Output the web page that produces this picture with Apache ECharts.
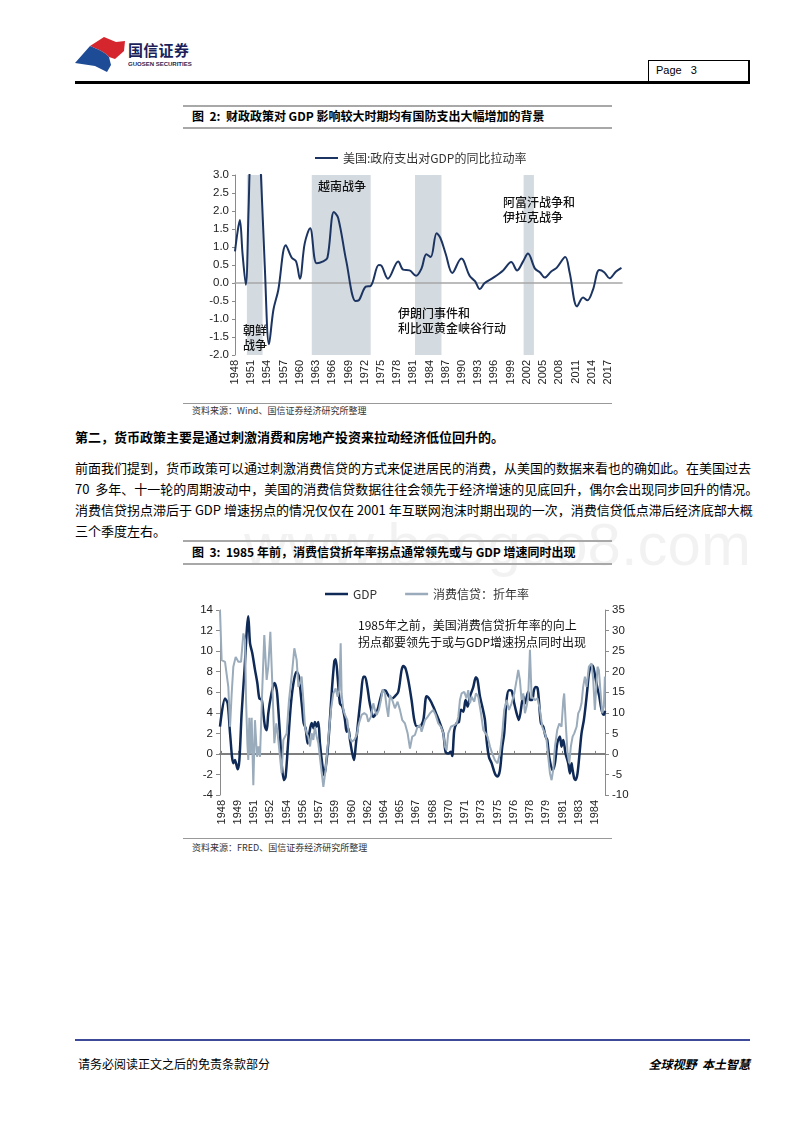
<!DOCTYPE html>
<html><head><meta charset="utf-8">
<script src="https://cdn.jsdelivr.net/npm/echarts@6/dist/echarts.min.js"></script>
<style>
body{margin:0;background:#fff;}
#page{position:relative;width:800px;height:1132px;background:#fff;overflow:hidden;font-family:"Noto Sans CJK SC","Liberation Sans",sans-serif;color:#000;}
.abs{position:absolute;white-space:nowrap;}
.jl{position:absolute;left:75px;width:673px;font-size:13px;line-height:16px;text-align:justify;text-align-last:justify;white-space:nowrap;}
</style></head><body>
<div id="page">
  <svg class="abs" style="left:0;top:0" width="200" height="90">
    <path d="M90,46 L104,37 L116,42 L125,41 L124,51 L115,59 L109,57 C104,51 97,49 90,46 Z" fill="#d6262d"/>
    <path d="M75,63 L90,46 C97,49 104,51 109,57 L111,65 L107,72 L95,66 Z" fill="#1e4b96"/>
  </svg>
  <div class="abs" style="left:128px;top:41px;font-size:15px;line-height:18px;font-weight:bold;color:#1b1f5c;letter-spacing:0.3px">国信证券</div>
  <div class="abs" style="left:128px;top:61px;font-size:6px;line-height:7px;font-weight:bold;color:#1b1f5c;font-family:'Liberation Sans'">GUOSEN SECURITIES</div>

  <div class="abs" style="left:648px;top:60px;width:99px;height:20px;border-top:1px solid #000;border-left:1px solid #000;border-right:2px solid #000;"></div>
  <div class="abs" style="left:656px;top:64px;font-size:11px;line-height:13px;font-family:'Liberation Sans'">Page&nbsp;&nbsp;&nbsp;3</div>
  <div class="abs" style="left:75px;top:81px;width:675px;height:3px;background:#000"></div>

  <div class="abs" style="left:183px;top:105px;width:429px;height:2px;background:#a8a8a8"></div>
  <div class="abs" style="left:192px;top:108px;font-size:12px;line-height:16px;font-weight:bold">图&nbsp;&nbsp;2:&nbsp;&nbsp;财政政策对 GDP 影响较大时期均有国防支出大幅增加的背景</div>
  <div class="abs" style="left:183px;top:127px;width:429px;height:2px;background:#a8a8a8"></div>

  <div id="c1" style="position:absolute;left:0;top:140px;width:800px;height:262px"></div>

  <div class="abs" style="left:183px;top:403px;width:429px;height:1px;background:#999"></div>
  <div class="abs" style="left:192px;top:405px;font-size:9px;line-height:12px;color:#333">资料来源：Wind、国信证券经济研究所整理</div>

  <div class="abs" style="left:75px;top:429px;font-size:13px;line-height:16px;font-weight:bold">第二，货币政策主要是通过刺激消费和房地产投资来拉动经济低位回升的。</div>

  <div class="abs" style="left:244px;top:512px;font-size:60px;line-height:66px;color:rgba(0,0,0,0.05);font-family:'Liberation Sans'">www.baogao8.com</div>

  <div class="jl" style="top:460px">前面我们提到，货币政策可以通过刺激消费信贷的方式来促进居民的消费，从美国的数据来看也的确如此。在美国过去</div>
  <div class="jl" style="top:481px">70&nbsp;&nbsp;多年、十一轮的周期波动中，美国的消费信贷数据往往会领先于经济增速的见底回升，偶尔会出现同步回升的情况。</div>
  <div class="jl" style="top:502px">消费信贷拐点滞后于 GDP 增速拐点的情况仅仅在 2001 年互联网泡沫时期出现的一次，消费信贷低点滞后经济底部大概</div>
  <div class="abs" style="left:75px;top:523px;font-size:13px;line-height:16px">三个季度左右。</div>

  <div class="abs" style="left:183px;top:540px;width:429px;height:2px;background:#a8a8a8"></div>
  <div class="abs" style="left:192px;top:544px;font-size:12px;line-height:16px;font-weight:bold">图&nbsp;&nbsp;3:&nbsp;&nbsp;1985 年前，消费信贷折年率拐点通常领先或与 GDP 增速同时出现</div>
  <div class="abs" style="left:183px;top:563px;width:429px;height:2px;background:#a8a8a8"></div>

  <div id="c2" style="position:absolute;left:0;top:570px;width:800px;height:266px"></div>

  <div class="abs" style="left:183px;top:838px;width:429px;height:1px;background:#999"></div>
  <div class="abs" style="left:192px;top:842px;font-size:9px;line-height:12px;color:#333">资料来源：FRED、国信证券经济研究所整理</div>

  <div class="abs" style="left:75px;top:1039px;width:675px;height:2px;background:#3d4a9a"></div>
  <div class="abs" style="left:78px;top:1056px;font-size:12px;line-height:16px">请务必阅读正文之后的免责条款部分</div>
  <div class="abs" style="right:50px;top:1056px;font-size:12px;line-height:16px;font-weight:bold;font-style:italic">全球视野&nbsp;&nbsp;本土智慧</div>
</div>
<script>
// ---------- Figure 2 data ----------
const govYears = [1948.0,1948.5,1948.9,1949.4,1950.0,1950.5,1950.8,1951.5,1952.3,1952.8,1953.5,1954.3,1955.1,1956.0,1957.4,1958.5,1959.3,1960.0,1960.9,1961.9,1963.1,1964.3,1965.1,1966.3,1967.1,1968.6,1970.3,1970.9,1972.2,1973.1,1974.6,1975.1,1976.3,1978.2,1979.1,1980.3,1981.5,1982.5,1983.4,1984.2,1985.3,1986.0,1987.0,1988.2,1989.9,1990.3,1991.4,1992.4,1993.3,1994.2,1995.8,1997.6,1999.1,2000.2,2001.3,2002.2,2003.5,2004.4,2005.3,2006.5,2007.5,2009.1,2009.9,2011.3,2012.4,2013.2,2014.2,2015.4,2016.3,2017.3,2018.5,2019.5];
const govValues = [0.88,1.45,1.75,0.8,-0.05,2.0,3.5,5.2,4.2,3.0,0.5,-1.7,-0.75,-0.2,1.05,0.7,0.6,0.12,1.1,1.52,0.55,0.6,0.7,1.97,1.8,0.6,-0.5,-0.48,-0.1,-0.08,0.5,0.48,0.12,0.6,0.37,0.35,0.2,0.4,0.8,0.72,1.38,1.25,0.8,0.28,0.68,0.62,0.2,0.05,-0.17,0.0,0.15,0.35,0.58,0.35,0.6,0.82,0.4,0.3,0.15,0.32,0.42,0.72,0.3,-0.65,-0.4,-0.48,-0.2,0.36,0.3,0.13,0.32,0.42];
const warStart = [1950.2,1962.2,1981.3,2001.4];
const warEnd   = [1953.1,1973.1,1986.2,2003.3];
const fig2Ticks = [1948,1951,1954,1957,1960,1963,1966,1969,1972,1975,1978,1981,1984,1987,1990,1993,1996,1999,2002,2005,2008,2011,2014,2017];
const fig2Name = '美国:政府支出对GDP的同比拉动率';

// ---------- Figure 3 data ----------
const gdpDates = [1948.05,1948.54,1948.80,1949.03,1949.35,1949.51,1949.61,1949.77,1949.94,1950.16,1950.42,1950.81,1950.98,1951.20,1951.46,1951.69,1951.89,1952.11,1952.28,1952.44,1952.60,1952.76,1953.02,1953.35,1953.58,1953.74,1953.93,1954.06,1954.29,1954.45,1954.71,1954.97,1955.27,1955.53,1955.75,1955.95,1956.08,1956.21,1956.40,1956.60,1956.76,1956.99,1957.18,1957.31,1957.48,1957.64,1957.80,1958.05,1958.22,1958.40,1958.61,1958.94,1959.20,1959.33,1959.52,1959.75,1959.98,1960.24,1960.40,1960.56,1960.73,1960.95,1961.12,1961.28,1961.54,1961.80,1962.03,1962.19,1962.42,1962.61,1962.77,1963.00,1963.16,1963.42,1963.65,1963.98,1964.20,1964.53,1964.85,1965.11,1965.44,1965.76,1965.93,1966.15,1966.41,1966.74,1967.00,1967.23,1967.55,1967.88,1968.20,1968.53,1968.85,1969.18,1969.50,1969.83,1970.05,1970.31,1970.57,1970.70,1970.90,1971.13,1971.35,1971.55,1971.78,1972.00,1972.20,1972.43,1972.75,1973.01,1973.17,1973.40,1973.63,1973.89,1974.05,1974.28,1974.54,1974.86,1975.12,1975.35,1975.58,1975.77,1976.00,1976.23,1976.49,1976.75,1976.98,1977.20,1977.63,1977.79,1978.11,1978.28,1978.50,1978.67,1978.86,1979.02,1979.15,1979.35,1979.58,1979.80,1979.97,1980.16,1980.49,1980.72,1980.94,1981.20,1981.36,1981.53,1981.75,1982.01,1982.18,1982.34,1982.40,1982.60,1982.73,1982.92,1983.15,1983.31,1983.54,1983.70,1983.87,1984.03,1984.22,1984.39,1984.61,1984.84,1985.04,1985.20,1985.36,1985.49,1985.60];
const gdpValues = [2.65,5.4,4.9,2.0,-0.9,-0.6,-0.9,-1.5,-0.6,3.95,7.85,13.4,10.75,9.8,8.2,6.9,5.4,5.3,3.95,2.65,2.3,3.95,5.6,6.9,6.2,4.3,1.35,-0.9,-2.55,-2.2,1.35,4.9,7.2,8.0,7.5,5.6,4.3,3.0,2.5,1.0,2.0,3.0,2.5,3.1,2.65,3.1,1.0,-1.2,-2.1,-1.0,1.0,5.9,9.0,9.2,7.5,4.9,4.6,3.3,2.15,2.5,1.35,0.05,-0.6,0.7,3.3,5.7,7.5,7.5,6.5,5.2,4.4,3.6,3.75,4.3,5.2,6.2,6.15,5.6,5.4,5.6,6.05,8.15,8.55,8.3,7.2,5.2,3.3,2.7,2.7,3.3,5.6,5.25,4.6,3.8,3.0,2.0,0.2,0.05,0.2,-0.2,2.3,3.0,3.1,4.3,4.1,5.25,4.6,5.6,6.5,7.45,7.2,5.6,4.6,3.3,1.35,-0.3,-0.9,-1.9,-2.2,-1.6,0.7,2.0,5.25,6.2,6.15,4.9,3.95,3.3,5.6,4.9,6.05,5.25,5.25,6.2,6.5,6.4,5.25,3.0,2.65,1.7,1.35,-0.3,-1.6,-0.9,1.0,1.7,0.7,1.35,0.05,-0.9,-1.9,-0.9,-1.3,-2.4,-2.55,-1.9,0.4,2.0,3.3,4.6,6.2,7.8,8.5,8.6,7.7,6.5,5.6,4.6,3.95,3.8,4.2];
const creditDates = [1948.05,1948.21,1948.54,1948.70,1948.86,1949.03,1949.19,1949.35,1949.58,1949.84,1950.10,1950.33,1950.49,1950.59,1950.72,1950.81,1950.91,1951.01,1951.14,1951.30,1951.46,1951.66,1951.79,1951.95,1952.18,1952.37,1952.60,1952.76,1952.96,1953.15,1953.35,1953.54,1953.67,1953.90,1954.06,1954.23,1954.39,1954.55,1954.78,1955.10,1955.30,1955.53,1955.69,1955.85,1956.01,1956.18,1956.34,1956.50,1956.66,1956.83,1956.99,1957.15,1957.31,1957.48,1957.64,1957.90,1958.13,1958.35,1958.61,1958.87,1959.10,1959.33,1959.52,1959.69,1959.82,1959.91,1960.08,1960.24,1960.47,1960.66,1960.89,1961.15,1961.38,1961.60,1961.86,1962.12,1962.35,1962.51,1962.77,1963.00,1963.16,1963.33,1963.55,1963.75,1963.91,1964.14,1964.30,1964.46,1964.63,1964.85,1965.11,1965.37,1965.60,1965.83,1966.09,1966.35,1966.58,1966.80,1967.06,1967.32,1967.55,1967.71,1968.04,1968.30,1968.53,1968.85,1969.08,1969.34,1969.60,1969.83,1969.99,1970.15,1970.31,1970.57,1970.90,1971.13,1971.29,1971.45,1971.61,1971.87,1972.10,1972.26,1972.43,1972.59,1972.85,1973.01,1973.24,1973.50,1973.73,1973.95,1974.15,1974.38,1974.60,1974.86,1975.12,1975.35,1975.58,1975.77,1976.00,1976.23,1976.49,1976.75,1976.98,1977.14,1977.30,1977.46,1977.63,1977.79,1977.95,1978.11,1978.28,1978.44,1978.60,1978.76,1979.02,1979.25,1979.48,1979.74,1979.90,1980.06,1980.23,1980.39,1980.55,1980.72,1980.94,1981.14,1981.36,1981.53,1981.62,1981.79,1981.95,1982.11,1982.27,1982.44,1982.60,1982.83,1982.99,1983.15,1983.31,1983.47,1983.64,1983.80,1984.03,1984.29,1984.45,1984.61,1984.87,1985.00,1985.20,1985.33,1985.49,1985.59];
const creditValues = [35,22.8,22.4,22.0,16.3,6.6,14.7,21.2,23.6,22.4,22.4,29.3,27.7,13.1,2.6,-1.5,8.8,0,8.8,-7.6,8.2,-0.7,1.8,-0.7,16.3,28.9,18.0,21.2,29.7,17.2,2.6,7.4,5.0,-0.7,-4.7,3.4,4.2,5.0,13.1,20.4,25.7,22.8,16.3,17.2,18.8,13.1,6.6,5.0,4.2,1.8,5.0,3.4,6.6,4.2,2.6,-3.1,-8.0,-3.9,3.4,10.7,14.7,15.9,13.9,15.5,26.9,14.7,10.7,9.5,8.2,4.2,3.0,3.4,4.6,7.4,9.5,9.9,9.5,7.8,9.0,12.3,10.7,9.5,10.7,13.1,15.7,14.7,11.5,9.0,14.3,13.1,11.1,12.7,10.7,8.2,7.4,5.0,1.3,4.2,4.6,6.6,7.0,5.4,8.2,9.0,9.9,10.7,9.5,7.4,6.6,5.0,1.8,0.9,5.0,6.6,7.0,7.4,9.0,13.1,14.7,15.1,13.5,15.5,12.3,13.9,12.7,14.7,13.9,9.9,5.8,5.0,4.2,1.8,0.1,-1.5,-2.3,0.1,5.0,10.7,13.1,10.7,12.3,14.7,18.0,20.4,18.0,13.1,14.7,9.9,11.5,13.9,25.3,13.9,13.9,13.1,13.5,10.7,6.6,5.0,3.4,-0.7,-4.7,-6.4,-3.9,1.8,5.8,7.4,6.6,13.1,14.7,6.6,0.1,-2.3,1.8,4.2,5.0,6.6,9.9,10.7,12.3,16.3,18.8,16.3,21.2,22.0,18.0,10.7,21.2,20.4,13.9,9.9,11.5,18.8];
const fig3Ticks = [1948.21,1949.79,1951.38,1952.96,1954.54,1956.13,1957.71,1959.29,1960.88,1962.46,1964.04,1965.63,1967.21,1968.79,1970.38,1971.96,1973.54,1975.13,1976.71,1978.29,1979.88,1981.46,1983.04,1984.63];
const gdpName = 'GDP';
const creditName = '消费信贷：折年率';

const pair = (xs, ys) => xs.map((x, i) => [x, ys[i]]);
const LAT = 'Liberation Sans';
const CJK = 'Noto Sans CJK SC';
const axisGray = '#8a8a8a';

// ---------- Chart 1 ----------
const c1 = echarts.init(document.getElementById('c1'), null, {renderer: 'canvas'});
const annoStyle = {fontSize: 12, fontFamily: CJK, fill: '#111', fontWeight: 500};
c1.setOption({
  animation: false,
  legend: {left: 310, top: 7, icon: 'rect', itemWidth: 23, itemHeight: 2, data: [fig2Name],
           textStyle: {fontSize: 12, color: '#333', fontFamily: CJK}},
  grid: {left: 235, top: 35, width: 387, height: 180, containLabel: false},
  xAxis: [
    {type: 'value', min: 1948, max: 2019.6, axisLine: {show: false, onZero: false}, axisTick: {show: false},
     splitLine: {show: false},
     axisLabel: {customValues: fig2Ticks, rotate: 90, fontSize: 11, color: '#222', fontFamily: LAT, margin: 5,
                 formatter: v => String(Math.round(v))}},
    {type: 'value', min: 1948, max: 2019.6, z: 2, axisLine: {show: true, onZero: true, lineStyle: {color: '#a6a6a6', width: 1.5}},
     axisTick: {show: false}, axisLabel: {show: false}, splitLine: {show: false}}
  ],
  yAxis: {type: 'value', min: -2, max: 3, interval: 0.5,
          axisLine: {show: true, lineStyle: {color: axisGray}}, axisTick: {show: true, length: 3, lineStyle: {color: axisGray}},
          splitLine: {show: false},
          axisLabel: {formatter: v => v.toFixed(1), fontSize: 11.5, color: '#222', fontFamily: LAT, margin: 6}},
  series: [
    {type: 'line', name: 'shade', data: pair(govYears, govValues), z: 1, silent: true, symbol: 'none',
     lineStyle: {opacity: 0}, tooltip: {show: false},
     markArea: {silent: true, itemStyle: {color: '#d3dae0'},
                data: warStart.map((s, i) => [{xAxis: s}, {xAxis: warEnd[i]}])}},
    {type: 'line', name: fig2Name, data: pair(govYears, govValues), z: 3, smooth: 0.35, symbol: 'none',
     lineStyle: {color: '#1c3461', width: 2}, itemStyle: {color: '#1c3461'}}
  ],
  graphic: [
    {type: 'text', left: 318, top: 40, style: Object.assign({text: '越南战争'}, annoStyle), z: 10},
    {type: 'text', left: 503, top: 55, style: Object.assign({text: '阿富汗战争和\n伊拉克战争', lineHeight: 15}, annoStyle), z: 10},
    {type: 'text', left: 398, top: 166, style: Object.assign({text: '伊朗门事件和\n利比亚黄金峡谷行动', lineHeight: 15}, annoStyle), z: 10},
    {type: 'text', left: 243, top: 183, style: Object.assign({text: '朝鲜\n战争', lineHeight: 15}, annoStyle), z: 10}
  ]
});

// ---------- Chart 2 ----------
const c2 = echarts.init(document.getElementById('c2'), null, {renderer: 'canvas'});
c2.setOption({
  animation: false,
  legend: {left: 320, top: 13, icon: 'rect', itemWidth: 23, itemHeight: 2.5, itemGap: 28, data: [gdpName, creditName],
           textStyle: {fontSize: 12, color: '#333', fontFamily: CJK}},
  grid: {left: 220, top: 40, width: 385, height: 185, containLabel: false},
  xAxis: [
    {type: 'value', min: 1948.05, max: 1985.6, axisLine: {show: false, onZero: false}, axisTick: {show: false},
     splitLine: {show: false},
     axisLabel: {customValues: fig3Ticks, rotate: 90, fontSize: 11, color: '#222', fontFamily: LAT, margin: 5,
                 formatter: v => String(Math.floor(v + 1e-6))}},
    {type: 'value', min: 1948.05, max: 1985.6, z: 2, axisLine: {show: true, onZero: true, lineStyle: {color: '#7f7f7f', width: 2}},
     axisTick: {show: true, customValues: fig3Ticks, length: 3, lineStyle: {color: '#7f7f7f'}},
     axisLabel: {show: false}, splitLine: {show: false}}
  ],
  yAxis: [
    {type: 'value', min: -4, max: 14, interval: 2, position: 'left',
     axisLine: {show: true, lineStyle: {color: axisGray}}, axisTick: {show: true, length: 4, lineStyle: {color: axisGray}},
     splitLine: {show: false}, axisLabel: {fontSize: 11.5, color: '#222', fontFamily: LAT, margin: 7}},
    {type: 'value', min: -10, max: 35, interval: 5, position: 'right',
     axisLine: {show: true, lineStyle: {color: axisGray}}, axisTick: {show: true, length: 4, lineStyle: {color: axisGray}},
     splitLine: {show: false}, axisLabel: {fontSize: 11.5, color: '#222', fontFamily: LAT, margin: 7}}
  ],
  series: [
    {type: 'line', name: gdpName, yAxisIndex: 0, data: pair(gdpDates, gdpValues), z: 3, smooth: 0.3, symbol: 'none',
     lineStyle: {color: '#0f2a57', width: 2.5}, itemStyle: {color: '#0f2a57'}},
    {type: 'line', name: creditName, yAxisIndex: 1, data: pair(creditDates, creditValues), z: 4, symbol: 'none',
     lineStyle: {color: '#9aabbb', width: 2}, itemStyle: {color: '#9aabbb'}}
  ],
  graphic: [
    {type: 'text', left: 358, top: 47, z: 10,
     style: {text: '1985年之前，美国消费信贷折年率的向上\n拐点都要领先于或与GDP增速拐点同时出现', lineHeight: 17,
             fontSize: 12, fontFamily: CJK, fill: '#111'}}
  ]
});
</script>
</body></html>
